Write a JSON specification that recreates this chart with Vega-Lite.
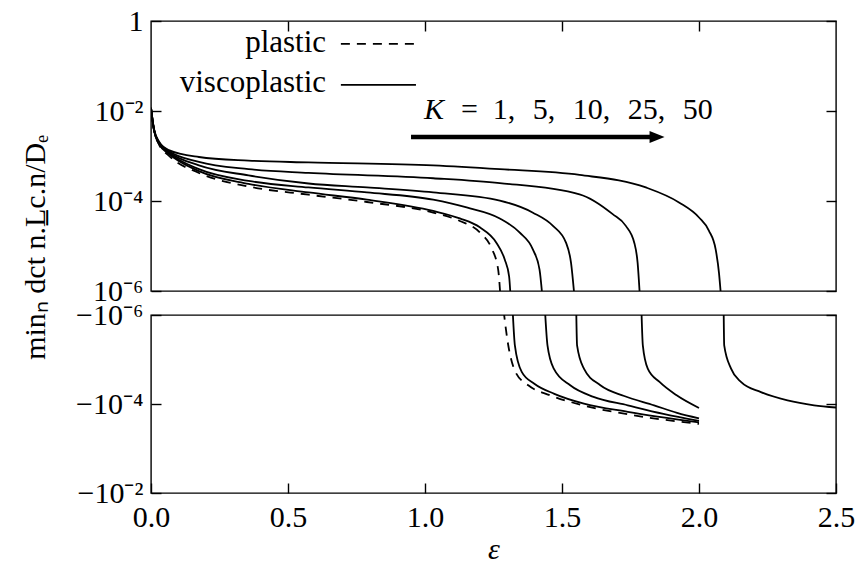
{
  "$schema": "https://vega.github.io/schema/vega-lite/v6.json",
  "background": "white",
  "padding": {"left": 19, "top": 5, "right": 4, "bottom": 5},
  "bounds": "flush",
  "config": {
    "font": "Liberation Serif",
    "view": {"stroke": "black", "strokeWidth": 1.4},
    "axis": {
      "domain": false, "grid": false, "tickColor": "black", "tickWidth": 1.4, "tickSize": -10,
      "labelFont": "Liberation Serif", "labelFontSize": 30, "labelColor": "black",
      "labelOverlap": false, "labelBound": false, "labelFlush": false,
      "titleFont": "Liberation Serif", "titleFontSize": 30, "titleColor": "black", "titleFontWeight": "normal"
    }
  },
  "datasets": {
    "c": [
      {"e":0,"v":0.0117,"s":"plastic"},{"e":0.011,"v":0.0037,"s":"plastic"},{"e":0.029,"v":0.00182,"s":"plastic"},{"e":0.065,"v":0.00102,"s":"plastic"},{"e":0.175,"v":0.00042,"s":"plastic"},{"e":0.356,"v":0.00021,"s":"plastic"},{"e":0.575,"v":0.000138,"s":"plastic"},{"e":0.788,"v":0.000095,"s":"plastic"},{"e":1.03,"v":0.000055,"s":"plastic"},{"e":1.127,"v":0.000036,"s":"plastic"},{"e":1.2,"v":0.00002,"s":"plastic"},{"e":1.242,"v":0.0000091,"s":"plastic"},{"e":1.267,"v":0.000003,"s":"plastic"},{"e":1.275,"v":0.0000008,"s":"plastic"},
      {"e":1.287,"v":-0.0000008,"s":"plastic"},{"e":1.3,"v":-0.0000034,"s":"plastic"},{"e":1.33,"v":-0.000019,"s":"plastic"},{"e":1.377,"v":-0.000038,"s":"plastic"},{"e":1.455,"v":-0.000063,"s":"plastic"},{"e":1.576,"v":-0.000107,"s":"plastic"},{"e":1.758,"v":-0.000178,"s":"plastic"},{"e":2.0,"v":-0.00028,"s":"plastic"},

      {"e":0,"v":0.0117,"s":"K1"},{"e":0.011,"v":0.0037,"s":"K1"},{"e":0.029,"v":0.00186,"s":"K1"},{"e":0.065,"v":0.00112,"s":"K1"},{"e":0.175,"v":0.00046,"s":"K1"},{"e":0.356,"v":0.00024,"s":"K1"},{"e":0.575,"v":0.000155,"s":"K1"},{"e":0.788,"v":0.000107,"s":"K1"},{"e":1.03,"v":0.00006,"s":"K1"},{"e":1.127,"v":0.000041,"s":"K1"},{"e":1.2,"v":0.000026,"s":"K1"},{"e":1.261,"v":0.0000117,"s":"K1"},{"e":1.291,"v":0.000005,"s":"K1"},{"e":1.307,"v":0.0000021,"s":"K1"},{"e":1.312,"v":0.0000008,"s":"K1"},
      {"e":1.32,"v":-0.0000008,"s":"K1"},{"e":1.328,"v":-0.0000048,"s":"K1"},{"e":1.353,"v":-0.000019,"s":"K1"},{"e":1.399,"v":-0.000035,"s":"K1"},{"e":1.472,"v":-0.000059,"s":"K1"},{"e":1.58,"v":-0.000098,"s":"K1"},{"e":1.74,"v":-0.00015,"s":"K1"},{"e":2.0,"v":-0.00026,"s":"K1"},

      {"e":0,"v":0.0117,"s":"K5"},{"e":0.011,"v":0.0038,"s":"K5"},{"e":0.029,"v":0.0019,"s":"K5"},{"e":0.065,"v":0.00117,"s":"K5"},{"e":0.175,"v":0.00051,"s":"K5"},{"e":0.356,"v":0.00028,"s":"K5"},{"e":0.575,"v":0.0002,"s":"K5"},{"e":0.788,"v":0.000155,"s":"K5"},{"e":1.03,"v":0.000107,"s":"K5"},{"e":1.152,"v":0.000072,"s":"K5"},{"e":1.273,"v":0.000041,"s":"K5"},{"e":1.345,"v":0.00002,"s":"K5"},{"e":1.394,"v":0.0000083,"s":"K5"},{"e":1.418,"v":0.000003,"s":"K5"},{"e":1.428,"v":0.0000008,"s":"K5"},
      {"e":1.438,"v":-0.0000008,"s":"K5"},{"e":1.447,"v":-0.0000048,"s":"K5"},{"e":1.47,"v":-0.000016,"s":"K5"},{"e":1.53,"v":-0.000038,"s":"K5"},{"e":1.615,"v":-0.000069,"s":"K5"},{"e":1.74,"v":-0.000107,"s":"K5"},{"e":1.87,"v":-0.000166,"s":"K5"},{"e":2.0,"v":-0.00024,"s":"K5"},

      {"e":0,"v":0.0117,"s":"K10"},{"e":0.011,"v":0.0038,"s":"K10"},{"e":0.029,"v":0.00195,"s":"K10"},{"e":0.065,"v":0.00123,"s":"K10"},{"e":0.175,"v":0.00062,"s":"K10"},{"e":0.356,"v":0.00037,"s":"K10"},{"e":0.575,"v":0.000245,"s":"K10"},{"e":0.788,"v":0.0002,"s":"K10"},{"e":1.03,"v":0.000155,"s":"K10"},{"e":1.273,"v":0.000102,"s":"K10"},{"e":1.394,"v":0.000055,"s":"K10"},{"e":1.467,"v":0.000028,"s":"K10"},{"e":1.515,"v":0.0000117,"s":"K10"},{"e":1.533,"v":0.0000042,"s":"K10"},{"e":1.545,"v":0.0000008,"s":"K10"},
      {"e":1.552,"v":-0.0000008,"s":"K10"},{"e":1.555,"v":-0.0000048,"s":"K10"},{"e":1.58,"v":-0.000016,"s":"K10"},{"e":1.64,"v":-0.000038,"s":"K10"},{"e":1.727,"v":-0.000066,"s":"K10"},{"e":1.836,"v":-0.000107,"s":"K10"},{"e":1.92,"v":-0.000158,"s":"K10"},{"e":2.0,"v":-0.00021,"s":"K10"},

      {"e":0,"v":0.0117,"s":"K25"},{"e":0.011,"v":0.0039,"s":"K25"},{"e":0.029,"v":0.002,"s":"K25"},{"e":0.065,"v":0.00129,"s":"K25"},{"e":0.175,"v":0.00074,"s":"K25"},{"e":0.356,"v":0.00051,"s":"K25"},{"e":0.575,"v":0.00042,"s":"K25"},{"e":1.03,"v":0.00032,"s":"K25"},{"e":1.273,"v":0.00025,"s":"K25"},{"e":1.564,"v":0.000141,"s":"K25"},{"e":1.685,"v":0.000051,"s":"K25"},{"e":1.733,"v":0.000028,"s":"K25"},{"e":1.764,"v":0.0000117,"s":"K25"},{"e":1.776,"v":0.0000042,"s":"K25"},{"e":1.784,"v":0.0000008,"s":"K25"},
      {"e":1.79,"v":-0.0000008,"s":"K25"},{"e":1.795,"v":-0.0000048,"s":"K25"},{"e":1.813,"v":-0.000016,"s":"K25"},{"e":1.856,"v":-0.000032,"s":"K25"},{"e":1.917,"v":-0.000063,"s":"K25"},{"e":2.0,"v":-0.000123,"s":"K25"},

      {"e":0,"v":0.0117,"s":"K50"},{"e":0.011,"v":0.004,"s":"K50"},{"e":0.029,"v":0.0021,"s":"K50"},{"e":0.065,"v":0.00135,"s":"K50"},{"e":0.175,"v":0.00095,"s":"K50"},{"e":0.356,"v":0.00079,"s":"K50"},{"e":0.575,"v":0.00072,"s":"K50"},{"e":1.03,"v":0.00062,"s":"K50"},{"e":1.273,"v":0.00051,"s":"K50"},{"e":1.564,"v":0.00038,"s":"K50"},{"e":1.806,"v":0.0002,"s":"K50"},{"e":1.927,"v":0.000093,"s":"K50"},{"e":2.0,"v":0.000043,"s":"K50"},{"e":2.036,"v":0.000022,"s":"K50"},{"e":2.061,"v":0.0000083,"s":"K50"},{"e":2.073,"v":0.0000025,"s":"K50"},{"e":2.08,"v":0.0000008,"s":"K50"},
      {"e":2.09,"v":-0.0000008,"s":"K50"},{"e":2.092,"v":-0.0000048,"s":"K50"},{"e":2.117,"v":-0.000016,"s":"K50"},{"e":2.153,"v":-0.000032,"s":"K50"},{"e":2.226,"v":-0.000054,"s":"K50"},{"e":2.323,"v":-0.000083,"s":"K50"},{"e":2.42,"v":-0.000107,"s":"K50"},{"e":2.5,"v":-0.00012,"s":"K50"}
    ]
  },
  "spacing": 0,
  "vconcat": [
    {
      "width": 685, "height": 270,
      "layer": [
        {
          "data": {"name": "c"},
          "transform": [{"filter": "datum.v > 0 && datum.s != 'plastic'"}],
          "mark": {"type": "line", "color": "black", "strokeWidth": 1.8, "interpolate": "monotone", "clip": true},
          "encoding": {
            "x": {"field": "e", "type": "quantitative", "scale": {"domain": [0, 2.5], "nice": false, "zero": false},
                  "axis": {"orient": "top", "values": [0.5, 1, 1.5, 2], "labels": false, "title": null}},
            "y": {"field": "v", "type": "quantitative", "scale": {"type": "log", "domain": [0.000001, 1], "nice": false},
                  "axis": {"orient": "left", "values": [1, 0.01, 0.0001, 0.000001], "labelPadding": 18,
                           "labelAlign": "right", "labelBaseline": "middle", "labelFlush": false,
                           "labelExpr": "datum.value > 0.5 ? '1' : datum.value > 0.005 ? '10⁻²' : datum.value > 0.00005 ? '10⁻⁴' : '10⁻⁶'",
                           "title": "minₙ dct n.L̲̲c.n/Dₑ", "titleAngle": -90, "titleX": -116, "titleY": 226,
                           "titleAlign": "center", "titleBaseline": "middle"}},
            "detail": {"field": "s"}
          }
        },
        {
          "data": {"name": "c"},
          "transform": [{"filter": "datum.v > 0 && datum.s == 'plastic'"}],
          "mark": {"type": "line", "color": "black", "strokeWidth": 1.8, "strokeDash": [9, 7], "interpolate": "monotone", "clip": true},
          "encoding": {
            "x": {"field": "e", "type": "quantitative", "axis": null},
            "y": {"field": "v", "type": "quantitative", "axis": null}
          }
        },
        {
          "data": {"name": "c"},
          "transform": [{"filter": "datum.v > 0"}],
          "mark": {"type": "point", "opacity": 0, "clip": true},
          "encoding": {
            "y": {"field": "v", "type": "quantitative",
                  "axis": {"orient": "right", "values": [1, 0.01, 0.0001, 0.000001], "labels": false, "title": null}}
          }
        },
        {
          "data": {"values": [{"t": "plastic", "yv": 0.205}, {"t": "viscoplastic", "yv": 0.0261}]},
          "mark": {"type": "text", "align": "right", "baseline": "alphabetic", "fontSize": 31, "font": "Liberation Serif", "color": "black"},
          "encoding": {
            "x": {"datum": 0.639, "type": "quantitative", "axis": null},
            "y": {"field": "yv", "type": "quantitative", "axis": null},
            "text": {"field": "t"}
          }
        },
        {
          "data": {"values": [{}]},
          "mark": {"type": "rule", "color": "black", "strokeWidth": 1.8, "strokeDash": [9, 7]},
          "encoding": {
            "x": {"datum": 0.693, "type": "quantitative", "axis": null},
            "x2": {"datum": 0.967},
            "y": {"datum": 0.31, "type": "quantitative", "axis": null}
          }
        },
        {
          "data": {"values": [{}]},
          "mark": {"type": "rule", "color": "black", "strokeWidth": 1.8},
          "encoding": {
            "x": {"datum": 0.693, "type": "quantitative", "axis": null},
            "x2": {"datum": 0.967},
            "y": {"datum": 0.0382, "type": "quantitative", "axis": null}
          }
        },
        {
          "data": {"values": [{}]},
          "mark": {"type": "text", "align": "left", "baseline": "alphabetic", "fontSize": 30, "font": "Liberation Serif", "fontStyle": "italic", "color": "black", "text": "K"},
          "encoding": {
            "x": {"datum": 0.996, "type": "quantitative", "axis": null},
            "y": {"datum": 0.0068, "type": "quantitative", "axis": null}
          }
        },
        {
          "data": {"values": [{}]},
          "mark": {"type": "text", "align": "left", "baseline": "alphabetic", "fontSize": 30, "font": "Liberation Serif", "color": "black", "text": "=\u20021,\u2002\u200a5,\u2002\u200a10,\u2002\u200a25,\u2002\u200a50"},
          "encoding": {
            "x": {"datum": 1.131, "type": "quantitative", "axis": null},
            "y": {"datum": 0.0068, "type": "quantitative", "axis": null}
          }
        },
        {
          "data": {"values": [{}]},
          "mark": {"type": "rule", "color": "black", "strokeWidth": 4.5},
          "encoding": {
            "x": {"datum": 0.949, "type": "quantitative", "axis": null},
            "x2": {"datum": 1.83},
            "y": {"datum": 0.00266, "type": "quantitative", "axis": null}
          }
        },
        {
          "data": {"values": [{}]},
          "mark": {"type": "point", "shape": "M-1,-0.8L1,0L-1,0.8Z", "size": 225, "filled": true, "color": "black", "opacity": 1, "strokeWidth": 0},
          "encoding": {
            "x": {"datum": 1.847, "type": "quantitative", "axis": null},
            "y": {"datum": 0.00266, "type": "quantitative", "axis": null}
          }
        }
      ],
      "resolve": {"axis": {"x": "independent", "y": "independent"}}
    },
    {
      "width": 685, "height": 24,
      "data": {"values": [{}]},
      "mark": {"type": "point", "opacity": 0}
    },
    {
      "width": 685, "height": 178,
      "layer": [
        {
          "data": {"name": "c"},
          "transform": [{"filter": "datum.v < 0 && datum.s != 'plastic'"}],
          "mark": {"type": "line", "color": "black", "strokeWidth": 1.8, "interpolate": "monotone", "clip": true},
          "encoding": {
            "x": {"field": "e", "type": "quantitative", "scale": {"domain": [0, 2.5], "nice": false, "zero": false},
                  "axis": {"orient": "bottom", "values": [0, 0.5, 1, 1.5, 2, 2.5], "format": ".1f", "labelPadding": 19,
                           "title": "ε", "titleFontStyle": "italic", "titleY": 56, "titleBaseline": "middle"}},
            "y": {"field": "v", "type": "quantitative", "scale": {"type": "log", "domain": [-0.01, -0.000001], "nice": false},
                  "axis": {"orient": "left", "values": [-0.000001, -0.0001, -0.01], "labelPadding": 18,
                           "labelAlign": "right", "labelBaseline": "middle", "labelFlush": false,
                           "labelExpr": "datum.value < -0.005 ? '−10⁻²' : datum.value < -0.00005 ? '−10⁻⁴' : '−10⁻⁶'",
                           "title": null}},
            "detail": {"field": "s"}
          }
        },
        {
          "data": {"name": "c"},
          "transform": [{"filter": "datum.v < 0 && datum.s == 'plastic'"}],
          "mark": {"type": "line", "color": "black", "strokeWidth": 1.8, "strokeDash": [9, 7], "interpolate": "monotone", "clip": true},
          "encoding": {
            "x": {"field": "e", "type": "quantitative", "axis": null},
            "y": {"field": "v", "type": "quantitative", "axis": null}
          }
        },
        {
          "data": {"name": "c"},
          "transform": [{"filter": "datum.v < 0"}],
          "mark": {"type": "point", "opacity": 0, "clip": true},
          "encoding": {
            "y": {"field": "v", "type": "quantitative",
                  "axis": {"orient": "right", "values": [-0.000001, -0.0001, -0.01], "labels": false, "title": null}}
          }
        }
      ],
      "resolve": {"axis": {"x": "independent", "y": "independent"}}
    }
  ]
}
